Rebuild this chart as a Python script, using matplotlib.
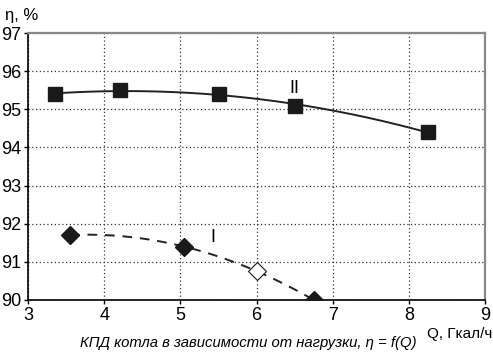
import numpy as np
import matplotlib
matplotlib.use('Agg')
import matplotlib.pyplot as plt

plt.rcParams['font.family'] = ['Liberation Sans', 'DejaVu Sans']

# Кривая II (квадраты)
q2 = [3.35, 4.2, 5.5, 6.5, 8.25]
eta2 = [95.4, 95.5, 95.4, 95.1, 94.4]

# Кривая I (ромбы)
q1 = [3.55, 5.05, 6.75]
eta1 = [91.7, 91.4, 90.0]
q1_open = [6.0]
eta1_open = [90.75]

fig = plt.figure(figsize=(4.93, 3.52), dpi=100)
ax = fig.add_axes([0.057, 0.148, 0.927, 0.758])

# линии тренда (полином 2-й степени)
c2 = np.polyfit(q2, eta2, 2)
xx2 = np.linspace(q2[0], q2[-1], 100)
ax.plot(xx2, np.polyval(c2, xx2), color='#222222', lw=1.4, zorder=2)

c1 = np.polyfit(q1 + q1_open, eta1 + eta1_open, 2)
xx1 = np.linspace(q1[0], q1[-1], 100)
ax.plot(xx1, np.polyval(c1, xx1), color='#222222', lw=1.4, ls=(0, (5, 4)), zorder=2)

ax.plot(q2, eta2, ls='none', marker='s', ms=10, color='#1a1a1a', zorder=3)
ax.plot(q1, eta1, ls='none', marker='D', ms=9, color='#1a1a1a', zorder=3)
ax.plot(q1_open, eta1_open, ls='none', marker='D', ms=9, mfc='white',
        mec='#1a1a1a', mew=0.8, zorder=3)

ax.text(6.5, 95.43, 'II', fontsize=13, ha='center', va='baseline')
ax.text(5.42, 91.52, 'I', fontsize=13, ha='center', va='baseline')

ax.set_xlim(3, 9)
ax.set_ylim(90, 97)
ax.set_xticks(range(3, 10))
ax.set_yticks(range(90, 98))
ax.tick_params(labelsize=13, length=3, width=1, direction='out', pad=2)
ax.grid(True, color='#333333', ls=(0, (1, 2)), lw=0.9)

for s in ['left', 'bottom']:
    ax.spines[s].set_linewidth(1.2)
for s in ['top', 'right']:
    ax.spines[s].set_color('#888888')
    ax.spines[s].set_linewidth(1.6)

fig.text(0.01, 0.957, 'η, %', fontsize=12, ha='left', va='center')
fig.text(0.998, 0.052, 'Q, Гкал/ч', fontsize=11, ha='right', va='center')
fig.text(0.504, 0.026, 'КПД котла в зависимости от нагрузки, η = f(Q)',
         fontsize=10.7, style='italic', ha='center', va='center')

fig.savefig('out.png', dpi=100)
